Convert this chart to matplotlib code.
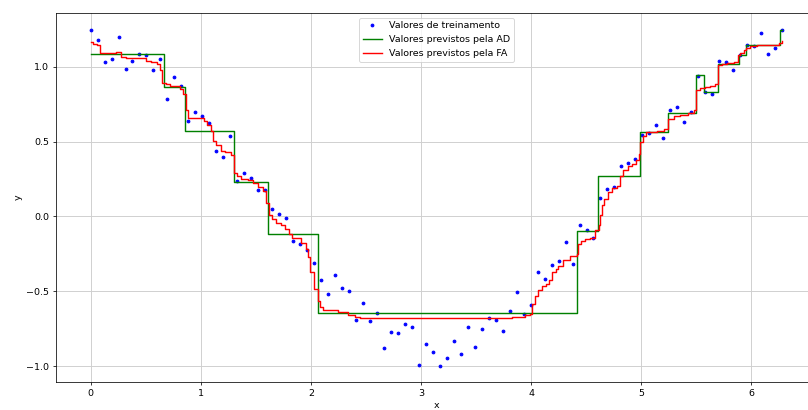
import numpy as np
import matplotlib
matplotlib.use("Agg")
import matplotlib.pyplot as plt

# pontos de treinamento (x igualmente espaçados de 0 a ~2pi)
x_treino = np.linspace(0, 6.28, 100)
y_treino = [1.244, 1.182, 1.035, 1.050, 1.200, 0.988, 1.043, 1.084, 1.079, 0.977,
            1.050, 0.785, 0.930, 0.870, 0.642, 0.699, 0.671, 0.627, 0.439, 0.401,
            0.540, 0.239, 0.290, 0.259, 0.178, 0.174, 0.049, 0.018, -0.007, -0.163,
            -0.185, -0.226, -0.308, -0.428, -0.520, -0.390, -0.477, -0.499, -0.693, -0.580,
            -0.698, -0.647, -0.881, -0.771, -0.780, -0.722, -0.740, -0.992, -0.854, -0.908,
            -0.999, -0.945, -0.834, -0.921, -0.742, -0.876, -0.751, -0.676, -0.691, -0.763,
            -0.635, -0.506, -0.651, -0.589, -0.371, -0.421, -0.326, -0.297, -0.170, -0.319,
            -0.054, -0.092, -0.145, 0.125, 0.187, 0.196, 0.341, 0.357, 0.386, 0.547,
            0.560, 0.613, 0.526, 0.709, 0.729, 0.631, 0.702, 0.941, 0.834, 0.821,
            1.037, 1.035, 0.983, 1.082, 1.148, 1.139, 1.224, 1.088, 1.128, 1.249]

# arvore de decisao (AD): inicio de cada degrau e nivel
ad_x = [0.0, 0.664, 0.857, 1.303, 1.615, 2.067, 4.42, 4.61, 4.994, 5.245,
        5.50, 5.567, 5.694, 5.89, 5.95, 6.264, 6.28]
ad_y = [1.088, 0.865, 0.575, 0.234, -0.116, -0.647, -0.094, 0.268, 0.564, 0.691,
        0.943, 0.832, 1.017, 1.082, 1.148, 1.249, 1.249]

# floresta aleatoria (FA)
fa_x = [0.0, 0.021, 0.058, 0.088, 0.227, 0.279, 0.324, 0.506, 0.551, 0.603,
        0.627, 0.651, 0.682, 0.718, 0.779, 0.809, 0.839, 0.864, 0.888, 1.030,
        1.061, 1.091, 1.112, 1.142, 1.182, 1.218, 1.273, 1.303, 1.333, 1.370,
        1.430, 1.476, 1.521, 1.567, 1.591, 1.618, 1.648, 1.688, 1.727, 1.764,
        1.800, 1.830, 1.909, 1.955, 1.970, 1.997, 2.030, 2.061, 2.082, 2.112,
        2.248, 2.339, 2.400, 2.445, 3.824, 3.900, 3.945, 3.991, 4.012, 4.036,
        4.067, 4.097, 4.133, 4.164, 4.188, 4.224, 4.248, 4.294, 4.355, 4.415,
        4.424, 4.455, 4.491, 4.536, 4.585, 4.615, 4.624, 4.645, 4.667, 4.703,
        4.739, 4.779, 4.809, 4.839, 4.879, 4.915, 4.952, 4.976, 4.994, 5.021,
        5.045, 5.142, 5.203, 5.245, 5.294, 5.355, 5.430, 5.476, 5.500, 5.536,
        5.582, 5.627, 5.673, 5.694, 5.733, 5.779, 5.839, 5.876, 5.900, 5.930,
        5.955, 5.991, 6.052, 6.233, 6.248, 6.28]
fa_y = [1.164, 1.155, 1.144, 1.095, 1.097, 1.070, 1.059, 1.043, 1.032, 1.017,
        0.977, 0.894, 0.883, 0.876, 0.870, 0.854, 0.816, 0.714, 0.660, 0.642,
        0.613, 0.575, 0.504, 0.475, 0.435, 0.428, 0.413, 0.290, 0.268, 0.250,
        0.241, 0.223, 0.196, 0.169, 0.092, 0.007, -0.020, -0.045, -0.060, -0.082,
        -0.116, -0.145, -0.178, -0.216, -0.272, -0.372, -0.486, -0.562, -0.607, -0.624,
        -0.640, -0.656, -0.669, -0.678, -0.673, -0.669, -0.662, -0.651, -0.584, -0.535,
        -0.495, -0.468, -0.450, -0.424, -0.372, -0.350, -0.328, -0.294, -0.261, -0.250,
        -0.183, -0.161, -0.149, -0.143, -0.089, -0.054, 0.007, 0.080, 0.118, 0.163,
        0.189, 0.207, 0.274, 0.308, 0.341, 0.352, 0.379, 0.419, 0.497, 0.535,
        0.564, 0.575, 0.586, 0.653, 0.669, 0.680, 0.691, 0.709, 0.843, 0.858,
        0.865, 0.876, 0.888, 1.010, 1.021, 1.025, 1.032, 1.077, 1.092, 1.115,
        1.128, 1.137, 1.144, 1.148, 1.162, 1.173]

dpi = 68
fig = plt.figure(figsize=(808 / dpi, 410 / dpi), dpi=dpi)
ax = fig.add_axes([56 / 808, 28 / 410, 761 / 808, 369 / 410])

ax.plot(x_treino, y_treino, 'b.', label='Valores de treinamento')
ax.step(ad_x, ad_y, where='post', color='g', lw=1.5, label='Valores previstos pela AD')
ax.step(fa_x, fa_y, where='post', color='r', lw=1.5, label='Valores previstos pela FA')

ax.set_xlim(-0.314, 6.597)
ax.set_ylim(-1.107, 1.361)
ax.set_xlabel('x')
ax.set_ylabel('y')
ax.grid(True, color='#cfcfcf', lw=1.0)
ax.legend(loc='upper center')

fig.savefig('out.png', dpi=dpi)
